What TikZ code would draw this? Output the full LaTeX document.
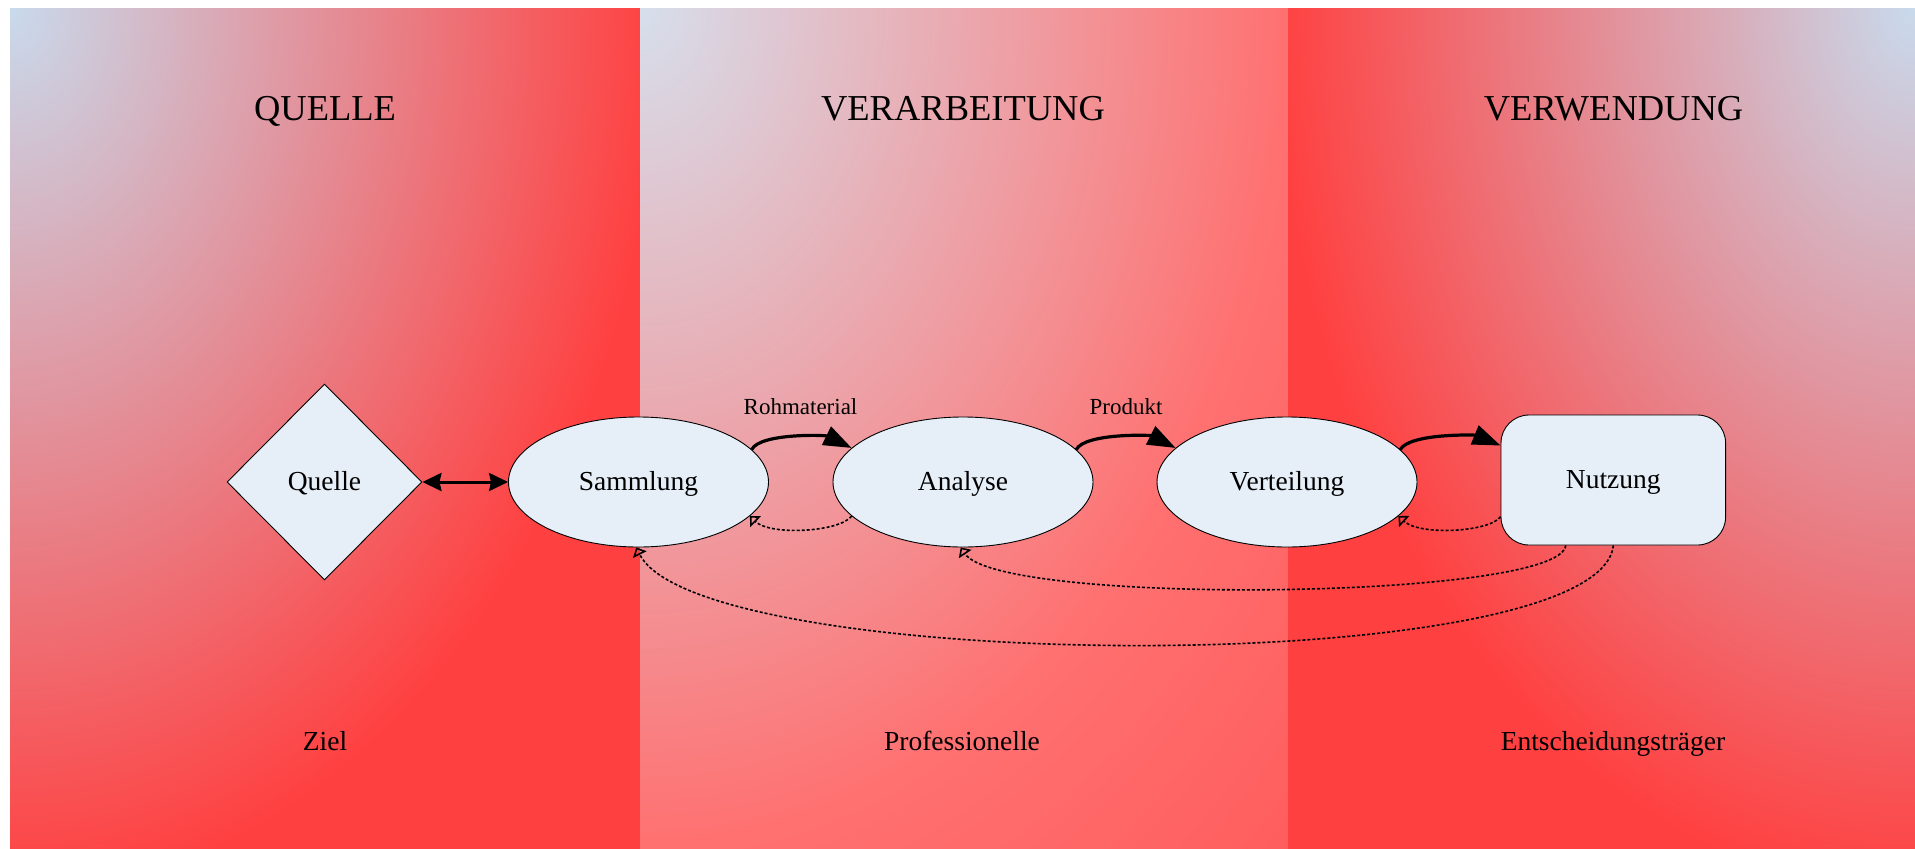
\documentclass[tikz,border=0pt]{standalone}
\usepackage{fontspec}
\setmainfont{Liberation Serif}
\usetikzlibrary{arrows.meta,shapes.geometric}
\definecolor{cornerblue}{HTML}{C8DAEC}
\definecolor{panelred}{HTML}{FF4040}
\definecolor{midblue}{HTML}{D6DFEC}
\definecolor{midred}{HTML}{FF7070}
\definecolor{midredend}{HTML}{FF5C5C}
\definecolor{nodefill}{HTML}{E6EEF8}
\pgfdeclareradialshading{sideshade}{\pgfpointorigin}{color(0bp)=(cornerblue); color(25bp)=(panelred); color(50bp)=(panelred)}
\pgfdeclareradialshading{midshade}{\pgfpointorigin}{color(0bp)=(midblue); color(25bp)=(midred); color(36bp)=(midredend); color(50bp)=(midredend)}
\tikzset{
  basenode/.style={draw=black,line width=0.9pt,fill=nodefill,inner sep=0pt,text=black,
    font=\fontsize{27.5}{30}\selectfont,text height=20pt,text depth=2.6pt},
  oval/.style={basenode,ellipse,minimum width=260pt,minimum height=130pt},
  title/.style={anchor=base,inner sep=0pt,font=\fontsize{36.5}{40}\selectfont},
  caption/.style={anchor=base,inner sep=0pt,font=\fontsize{27.5}{30}\selectfont},
  flowlabel/.style={anchor=base,inner sep=0pt,font=\fontsize{23}{26}\selectfont},
  forward/.style={line width=3.2pt,-{Triangle[length=28pt,width=20pt]}},
  both/.style={line width=3pt,{Stealth[length=19pt,width=18pt,inset=2pt]}-{Stealth[length=19pt,width=18pt,inset=2pt]}},
  feedback/.style={line width=1.6pt,dash pattern=on 3pt off 2pt,-{Triangle[open,length=8pt,width=15pt,fill=none]}},
}
\begin{document}
\begin{tikzpicture}[x=1pt,y=-1pt]
\useasboundingbox (0,0) rectangle (1915,849);
\begin{scope}
  \clip (10,8) rectangle (640,849);
  \shade[shading=sideshade] (-640,-877) rectangle (660,893);
\end{scope}
\begin{scope}
  \clip (640,8) rectangle (1288,849);
  \shade[shading=midshade] (-8,-833) rectangle (1288,849);
\end{scope}
\begin{scope}
  \clip (1288,8) rectangle (1915,849);
  \shade[shading=sideshade] (1275,-877) rectangle (2555,893);
\end{scope}
\node[title] (t1) at (325,120) {QUELLE};
\node[title] (t2) at (963,120) {VERARBEITUNG};
\node[title] (t3) at (1613.5,120) {VERWENDUNG};
\node[caption] (c1) at (325,750) {Ziel};
\node[caption] (c2) at (962,750) {Professionelle};
\node[caption] (c3) at (1613,750) {Entscheidungsträger};
\node[flowlabel] (l1) at (800.5,414) {Rohmaterial};
\node[flowlabel] (l2) at (1126,414) {Produkt};
\node[basenode,diamond,aspect=1,minimum width=195pt,minimum height=196pt,text depth=3.6pt] (quelle) at (324.5,482) {Quelle};
\node[oval] (samm) at (638.5,482) {Sammlung};
\node[oval] (anal) at (963,482) {Analyse};
\node[oval] (vert) at (1287,482) {Verteilung};
\node[basenode,rectangle,rounded corners=28pt,minimum width=224.6pt,minimum height=130pt] (nutz) at (1613.3,480) {Nutzung};
\draw[both] (quelle.east) -- (samm.west);
\draw[forward] (samm.16.5) .. controls (760,433) and (825,435) .. (anal.163.7);
\draw[forward] (anal.16.5) .. controls (1085,433) and (1150,435) .. (vert.163.7);
\draw[forward] (vert.16.5) .. controls (1410,433) and (1475,435) .. (nutz.163.7);
\draw[feedback] (anal.197.5) .. controls (840,532) and (770,536) .. (samm.-17);
\draw[feedback] (nutz.198.2) .. controls (1490,532) and (1420,536) .. (vert.-17);
\draw[feedback] (nutz.234) .. controls (1560,600) and (1000,606) .. (anal.-92);
\draw[feedback] (nutz.south) .. controls (1600,680) and (700,675) .. (samm.-92);
\end{tikzpicture}
\end{document}
